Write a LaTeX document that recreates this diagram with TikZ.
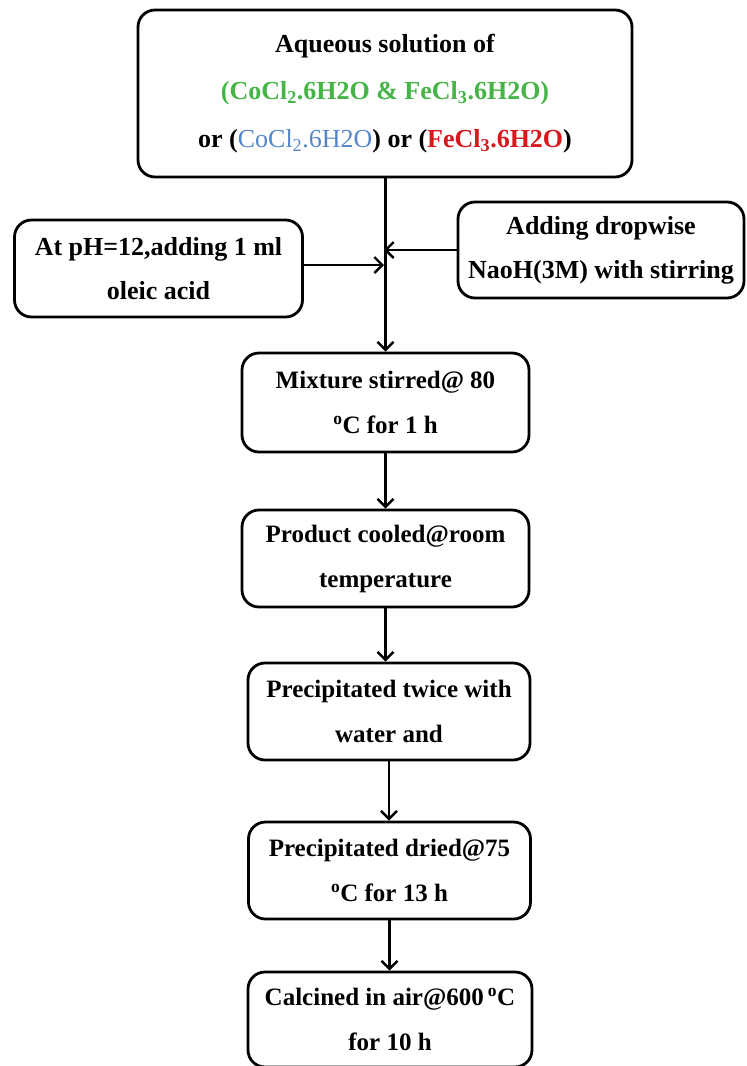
\documentclass[tikz,border=0pt]{standalone}
\usepackage{fontspec}
\setmainfont{Liberation Serif}
\usetikzlibrary{arrows.meta}
\definecolor{cgreen}{RGB}{70,180,70}
\definecolor{cblue}{RGB}{85,135,200}
\definecolor{cred}{RGB}{215,25,30}
\begin{document}
\begin{tikzpicture}[x=1pt,y=-1pt,
  box/.style={draw, line width=2.8pt, rounded corners=17pt, align=center, inner sep=0pt},
  arr/.style={line width=2.4pt, -{Straight Barb[length=8pt,width=16pt,line width=2.4pt]}},
  txt/.style={font=\fontsize{25}{45}\selectfont\bfseries},
  sidetxt/.style={font=\fontsize{26}{44}\selectfont\bfseries},
  toptxt/.style={font=\fontsize{26}{47.5}\selectfont\bfseries}]
\clip (0,0) rectangle (747,1066);
\fill[white] (0,0) rectangle (747,1066);
\node[box, toptxt, minimum width=494pt, minimum height=167pt] (top) at (385,93.5)
  {Aqueous solution of\\
   \textcolor{cgreen}{(CoCl\textsubscript{2}.6H2O \& FeCl\textsubscript{3}.6H2O)}\\
   or (\textcolor{cblue}{\mdseries CoCl\textsubscript{2}.6H2O}) or (\textcolor{cred}{FeCl\textsubscript{3}.6H2O})};
\node[box, sidetxt, minimum width=288pt, minimum height=97pt] (left) at (158.5,268.5)
  {At pH=12,adding 1 ml\\oleic acid};
\node[box, sidetxt, minimum width=286pt, minimum height=96pt] (right) at (601,250)
  {Adding dropwise\\NaoH(3M) with stirring};
\node[box, txt, minimum width=287pt, minimum height=99pt] (mix) at (385.5,402.5)
  {Mixture stirred@ 80\\\textsuperscript{o}C for 1 h};
\node[box, txt, minimum width=287pt, minimum height=97pt] (prod) at (385.5,558.5)
  {Product cooled@room\\temperature};
\node[box, txt, minimum width=282pt, minimum height=97pt] (twice) at (389,711.5)
  {Precipitated twice with\\water and};
\node[box, txt, minimum width=282pt, minimum height=97pt] (dried) at (389.5,870.5)
  {Precipitated dried@75\\\textsuperscript{o}C for 13 h};
\node[box, txt, minimum width=284pt, minimum height=95pt] (calc) at (390,1019.5)
  {Calcined in air@600\,\textsuperscript{o}C\\for 10 h};
\coordinate (jl) at (384,265);
\coordinate (jr) at (384,250);
\draw[arr] (top.south -| mix.north) -- (mix.north);
\draw[arr] (left.east |- jl) -- (jl);
\draw[arr] (right.west |- jr) -- (jr);
\draw[arr] (mix.south) -- (mix.south |- prod.north);
\draw[arr] (prod.south) -- (prod.south |- twice.north);
\draw[arr] (twice.south) -- (twice.south |- dried.north);
\draw[arr] (dried.south) -- (dried.south |- calc.north);
\end{tikzpicture}
\end{document}
